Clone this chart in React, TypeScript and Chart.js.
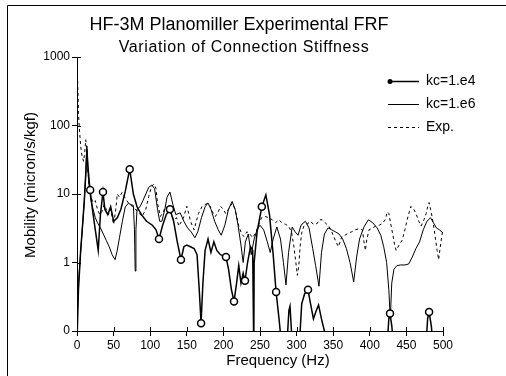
import React, { useEffect, useRef } from "react";
import { Chart, registerables } from "chart.js";

Chart.register(...registerables);

const TITLE = "HF-3M Planomiller Experimental FRF";
const SUBTITLE = "Variation of Connection Stiffness";
const X_LABEL = "Frequency (Hz)";
const Y_LABEL = "Mobility (micron/s/kgf)";
const SERIES_NAMES = ["kc=1.e4", "kc=1.e6", "Exp."];

const X_TICKS = [0, 50, 100, 150, 200, 250, 300, 350, 400, 450, 500];
const Y_TICKS = [0.1, 1, 10, 100, 1000];
const Y_TICK_LABELS = ["0", "1", "10", "100", "1000"];

// [frequency Hz, mobility]
const kc4: [number, number][] = [
  [0, 0.07], [2, 0.4], [5, 1.5], [8, 4], [10, 8], [12, 20], [13.5, 45], [15, 25], [17, 14],
  [18, 11.4], [21, 6], [25, 3], [29, 1.5], [32, 5], [35.5, 10.7], [38, 6], [42, 5], [46, 6.5],
  [50, 4], [55, 4.5], [60, 6], [66, 11], [72, 23], [77, 10], [82, 6.5], [88, 5], [95, 4],
  [103, 3.5], [108, 3], [112, 2.2], [117, 3.5], [122, 5], [127, 6], [132, 4], [137, 2],
  [142, 1.1], [146, 1.7], [150, 1.8], [155, 1.7], [160, 1.6], [164, 1.3], [167, 0.4],
  [169.5, 0.13], [172, 0.5], [175, 1.5], [179, 2.2], [183, 1.4], [187, 2], [191, 1.5],
  [196, 1.3], [200, 1.25], [203.5, 1.2], [207, 0.8], [211, 0.4], [214.5, 0.27], [218, 0.5],
  [221, 0.9], [224, 0.5], [227, 0.7], [229.5, 0.54], [233, 1.0], [237, 1.7], [240, 1.5],
  [241.5, 0.05], [242, 1.0], [246, 2.8], [252.5, 6.5], [258, 9.7], [263, 5], [268, 1.3],
  [272, 0.37], [276, 0.15], [279, 0.07], [287, 0.07], [289.5, 0.2], [291, 0.23], [293, 0.1],
  [295, 0.07], [304, 0.07], [307, 0.25], [311, 0.35], [315.6, 0.4], [319, 0.25], [323, 0.15],
  [327, 0.2], [330, 0.24], [334, 0.15], [338, 0.1], [341, 0.07], [424, 0.07], [426, 0.15],
  [427.6, 0.18], [430, 0.12], [432, 0.07], [477, 0.07], [479, 0.15], [481, 0.19], [484, 0.12],
  [486, 0.07], [500, 0.07],
];
const kc4Markers = [18, 35.5, 72, 112, 127, 142, 169.5, 203.5, 214.5, 229.5, 252.5, 272, 315.6, 427.6, 481];

const kc6: [number, number][] = [
  [0, 0.12], [2, 0.5], [4, 1], [6, 2], [8, 4], [10, 8], [12, 20], [13.5, 50], [15, 22], [17, 12],
  [19, 8], [22, 6], [25, 4.5], [28, 3.8], [32, 3.2], [36, 2.6], [40, 2.1], [44, 1.7], [48, 1.3],
  [52, 1.1], [55, 1.5], [58, 2.3], [62, 4], [66, 6.5], [70, 7.3], [74, 7], [77, 6.8], [78.5, 3],
  [79.5, 0.75], [80.5, 3], [82, 6], [86, 6.5], [90, 8], [94, 10], [98, 12.5], [102, 13.5],
  [106, 12], [110, 6], [113, 4], [116, 4], [120, 6], [123, 9], [127, 10.7], [131, 7], [135, 5],
  [141, 5.3], [146, 4], [151, 3.2], [156, 2.8], [161, 2.3], [165, 2.8], [170, 4.5], [175, 6.5],
  [179, 7.4], [183, 6], [188, 4], [193, 3], [197, 2.5], [202, 3.5], [207, 6], [212, 7.8],
  [216, 6], [220, 3.5], [224, 1.8], [227, 1], [230, 2], [234, 2.6], [238, 1.3], [242, 2.2],
  [246, 3], [250, 3.5], [255, 3], [260, 2], [264, 1.4], [268, 2.2], [273, 3.3], [278, 2.2],
  [282, 1], [285.5, 0.47], [289, 1.4], [294, 3.3], [298, 2.8], [302, 2.5], [306, 3.5], [312, 4],
  [317, 3.2], [322, 1.6], [326, 0.9], [330.6, 0.45], [334, 1.4], [338, 2.6], [343, 3.2],
  [348, 3], [353, 2.8], [358, 2.6], [363, 2.2], [368, 1.6], [373, 1], [378, 0.52], [382, 1.2],
  [386, 2.2], [392, 3.3], [398, 4.2], [404, 3.8], [410, 3.2], [415, 2.5], [419, 1.7], [423, 1],
  [426, 0.4], [428, 0.15], [430, 0.5], [433, 0.8], [437, 0.9], [442, 0.92], [448, 0.92],
  [453, 0.95], [458, 1.2], [463, 1.6], [468, 2], [473, 3], [478, 4], [483, 4.5], [487, 3.8],
  [491, 3.2], [495, 3], [500, 2.7],
];

const expData: [number, number][] = [
  [0, 1000], [1, 400], [2, 150], [3, 100], [4, 70], [5, 50], [7, 35], [9, 30], [10.5, 40],
  [12, 62], [13.5, 40], [15, 20], [17, 12], [19, 9], [22, 7.5], [25, 8], [28, 6], [31, 5],
  [34, 5.5], [37, 7], [40, 6], [43, 5], [46, 6], [50, 3.6], [53, 6], [55, 10], [58, 9],
  [61.5, 10.5], [65, 9], [68, 8], [72, 7], [77, 6.5], [83, 5.5], [89, 4.7], [94, 6], [98, 9.2],
  [102, 13], [105, 14], [108, 12], [110, 7.3], [114, 4.7], [118, 5.5], [121, 6.6], [125, 6],
  [128, 5.2], [132, 4.2], [136, 4.5], [139, 3.4], [143, 4], [146, 4.7], [150, 6.6], [153, 5],
  [155, 4], [160, 3], [163, 4], [166, 5.2], [171, 6.6], [175, 7], [178, 7.3], [182, 6.6],
  [185, 5.5], [189, 4.7], [193, 5.5], [196, 6.6], [200, 6], [203, 5.2], [207, 6], [212, 7.3],
  [216, 6], [221, 3.4], [225, 2.6], [228, 2.4], [232, 2.8], [235, 2.7], [240, 2.3], [244, 2.7],
  [248, 3.5], [252, 4.5], [257, 4.7], [262, 4.5], [267, 4.2], [271, 3.8], [276, 4.2], [280, 3.8],
  [285, 3.6], [289, 3.4], [293, 2.8], [296, 1.8], [299, 1], [301, 0.65], [303, 0.9], [305, 1.8],
  [307, 2.7], [310, 3.4], [314, 3.6], [319, 4], [323, 3.6], [328, 3.7], [331, 4.2], [335, 4.2],
  [339, 3.8], [344, 3.4], [348, 2.8], [353, 2.1], [357, 1.7], [362, 2.4], [366, 2.5], [371, 2.7],
  [375, 2.8], [380, 3], [385, 3.1], [390, 3], [392, 2], [394, 1.5], [396, 2.2], [399, 3],
  [404, 3.2], [408, 3.4], [413, 3.5], [417, 3.7], [421, 4.2], [424, 5.5], [426, 5.2], [429, 3.5],
  [431, 2.7], [434, 1.8], [436, 1.5], [440, 1.8], [444, 2.1], [448, 3], [451, 4.2], [454, 5.5],
  [456, 6.6], [460, 6], [463, 5.2], [467, 4], [470, 3.4], [474, 4.2], [477, 5.2], [479, 6.5],
  [481, 7.5], [483, 6], [485, 4.7], [488, 3], [490, 2.1], [492, 1.5], [494, 1.1], [496, 1.6],
  [499, 2.7], [500, 2.7],
];

const FONT = "'Liberation Sans', Arial, sans-serif";

const decorPlugin = {
  id: "decor",
  afterDraw(chart: any) {
    const ctx = chart.ctx as any;
    const area = chart.chartArea;
    const xs = chart.scales.x;
    const ys = chart.scales.y;
    ctx.save();
    ctx.strokeStyle = "#000";
    ctx.fillStyle = "#000";
    ctx.lineWidth = 1;
    // frame
    ctx.beginPath();
    ctx.moveTo(7.5, 376);
    ctx.lineTo(7.5, 5.5);
    ctx.lineTo(506, 5.5);
    ctx.stroke();
    // inner ticks
    ctx.beginPath();
    X_TICKS.forEach((v) => {
      const px = Math.round(xs.getPixelForValue(v)) + 0.5;
      ctx.moveTo(px, area.bottom);
      ctx.lineTo(px, area.bottom - 4);
    });
    Y_TICKS.forEach((v) => {
      const py = Math.round(ys.getPixelForValue(v)) + 0.5;
      ctx.moveTo(area.left, py);
      ctx.lineTo(area.left + 4, py);
    });
    ctx.stroke();
    // titles
    ctx.textAlign = "center";
    ctx.textBaseline = "middle";
    ctx.font = `18px ${FONT}`;
    ctx.fillText(TITLE, 239, 25);
    ctx.font = `16px ${FONT}`;
    ctx.letterSpacing = "0.6px";
    ctx.fillText(SUBTITLE, 244, 48);
    ctx.letterSpacing = "0px";
    ctx.font = `15px ${FONT}`;
    ctx.fillText(X_LABEL, 278, 361);
    ctx.save();
    ctx.translate(31, 185);
    ctx.rotate(-Math.PI / 2);
    ctx.fillText(Y_LABEL, 0, 0);
    ctx.restore();
    // legend
    const rows = [81, 104, 127];
    chart.data.datasets.forEach((ds: any, i: number) => {
      const y = rows[i] + 0.5;
      ctx.save();
      ctx.lineWidth = ds.borderWidth;
      ctx.setLineDash(ds.borderDash || []);
      ctx.beginPath();
      ctx.moveTo(388, y);
      ctx.lineTo(419, y);
      ctx.stroke();
      ctx.restore();
      if (i === 0) {
        ctx.beginPath();
        ctx.arc(390, y, 2.5, 0, Math.PI * 2);
        ctx.fillStyle = "#000";
        ctx.fill();
      }
      ctx.textAlign = "left";
      ctx.font = `14px ${FONT}`;
      ctx.fillStyle = "#000";
      ctx.fillText(SERIES_NAMES[i], 426, y);
    });
    ctx.restore();
  },
};

export default function App() {
  const ref = useRef<HTMLCanvasElement | null>(null);
  useEffect(() => {
    if (!ref.current) return;
    const toXY = (arr: [number, number][]) => arr.map(([x, y]) => ({ x, y }));
    const chart = new Chart(ref.current, {
      type: "line",
      data: {
        datasets: [
          {
            label: SERIES_NAMES[0],
            data: toXY(kc4),
            borderColor: "#000",
            borderWidth: 1.5,
            pointRadius: (c: any) => (c.raw && kc4Markers.includes(c.raw.x) ? 3.5 : 0),
            pointBackgroundColor: "#fff",
            pointBorderColor: "#000",
            pointBorderWidth: 1.5,
            tension: 0,
          },
          {
            label: SERIES_NAMES[1],
            data: toXY(kc6),
            borderColor: "#000",
            borderWidth: 1,
            pointRadius: 0,
            tension: 0,
          },
          {
            label: SERIES_NAMES[2],
            data: toXY(expData),
            borderColor: "#000",
            borderWidth: 1,
            borderDash: [3, 3],
            pointRadius: 0,
            tension: 0,
          },
        ],
      },
      options: {
        responsive: false,
        animation: false,
        events: [],
        layout: { padding: { left: 0, top: 57, right: 63, bottom: 0 } },
        plugins: { legend: { display: false }, title: { display: false }, tooltip: { enabled: false } },
        scales: {
          x: {
            type: "linear",
            min: 0,
            max: 500,
            afterFit: (s: any) => { s.height = 45; },
            afterBuildTicks: (s: any) => { s.ticks = X_TICKS.map((v) => ({ value: v })); },
            grid: { drawOnChartArea: false, drawTicks: true, tickLength: 5, color: "#000" },
            border: { display: true, color: "#000", width: 1 },
            ticks: { color: "#000", font: { family: FONT, size: 12 }, padding: 2, maxRotation: 0 },
          },
          y: {
            type: "logarithmic",
            min: 0.1,
            max: 1000,
            afterFit: (s: any) => { s.width = 77; },
            afterBuildTicks: (s: any) => { s.ticks = Y_TICKS.map((v) => ({ value: v })); },
            grid: { drawOnChartArea: false, drawTicks: true, tickLength: 5, color: "#000" },
            border: { display: true, color: "#000", width: 1 },
            ticks: {
              color: "#000",
              font: { family: FONT, size: 12 },
              padding: 2,
              callback: (v: any) => {
                const i = Y_TICKS.findIndex((t) => Math.abs(t - Number(v)) < 1e-9);
                return i >= 0 ? Y_TICK_LABELS[i] : "";
              },
            },
          },
        },
      },
      plugins: [decorPlugin],
    } as any);
    return () => chart.destroy();
  }, []);
  return (
    <div style={{ position: "fixed", left: 0, top: 0, width: 506, height: 376, background: "#fff" }}>
      <canvas ref={ref} width={506} height={376} style={{ display: "block" }} />
    </div>
  );
}
